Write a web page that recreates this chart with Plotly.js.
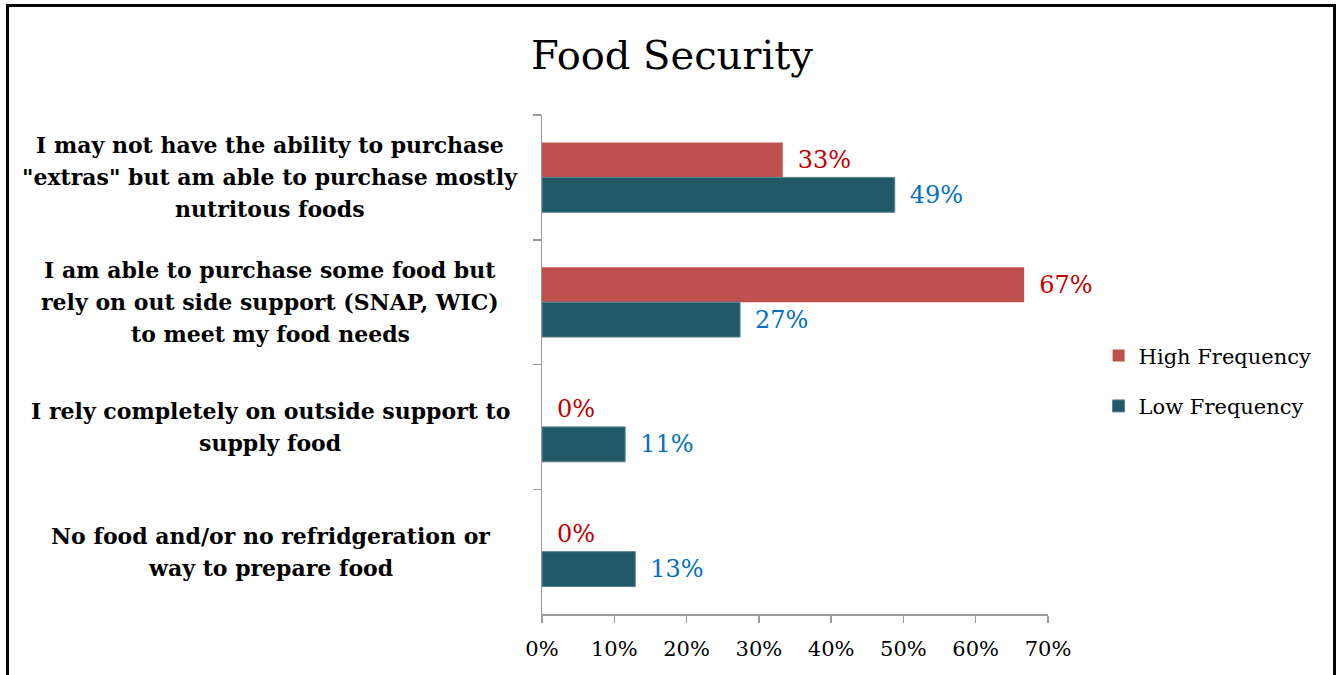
<!DOCTYPE html>
<html>
<head>
<meta charset="utf-8">
<script src="https://cdn.plot.ly/plotly-3.0.1.min.js"></script>
<style>
  html, body { margin: 0; padding: 0; background: #fff; }
  #wrap { position: relative; width: 1336px; height: 675px; overflow: hidden; }
  #chart { position: absolute; left: 0; top: 0; width: 1336px; height: 675px; }
  #frame { position: absolute; left: 6px; top: 4px; width: 1330px; height: 720px;
           border: 3px solid #000; box-sizing: border-box; pointer-events: none; }
</style>
</head>
<body>
<div id="wrap">
  <div id="chart"></div>
  <div id="frame"></div>
</div>
<script>
const chartTitle = 'Food Security';
const categories = [
  'I may not have the ability to purchase<br>"extras" but am able to purchase mostly<br>nutritous foods',
  'I am able to purchase some food but<br>rely on out side support (SNAP, WIC)<br>to meet my food needs',
  'I rely completely on outside support to<br>supply food',
  'No food and/or no refridgeration or<br>way to prepare food'
];
const seriesNames = ['High Frequency', 'Low Frequency'];
const highValues = [33.3, 66.7, 0, 0];
const lowValues = [48.8, 27.4, 11.5, 12.9];
const highLabels = ['33%', '67%', '0%', '0%'];
const lowLabels = ['49%', '27%', '11%', '13%'];
const xTickVals = [0, 10, 20, 30, 40, 50, 60, 70];
const xTickText = ['0%', '10%', '20%', '30%', '40%', '50%', '60%', '70%'];

const FONT = 'DejaVu Serif, Liberation Serif, serif';

const traces = [
  {
    type: 'bar', orientation: 'h', name: seriesNames[0], legendgroup: 'h',
    y: categories, x: highValues, text: highLabels,
    texttemplate: '\u2002%{text}', textposition: 'outside', cliponaxis: false,
    textfont: { family: FONT, size: 24, color: '#C00000' },
    marker: { color: '#C0504D' }, hoverinfo: 'x+name'
  },
  {
    type: 'bar', orientation: 'h', name: seriesNames[1], legendgroup: 'l',
    y: categories, x: lowValues, text: lowLabels,
    texttemplate: '\u2002%{text}', textposition: 'outside', cliponaxis: false,
    textfont: { family: FONT, size: 24, color: '#0070C0' },
    marker: { color: '#215968', line: { color: '#5a8290', width: 1 } }, hoverinfo: 'x+name'
  }
];

// category labels drawn as centred, multi-line annotations (one per line for line spacing)
const LINE_GAP = 32;
const annotations = [];
categories.forEach(c => {
  const lines = c.split('<br>');
  const n = lines.length;
  lines.forEach((ln, i) => {
    annotations.push({
      xref: 'paper', yref: 'y', x: -0.5375, y: c, text: ln,
      yshift: ((n - 1) / 2 - i) * LINE_GAP,
      showarrow: false, xanchor: 'center', yanchor: 'middle', align: 'center',
      font: { family: FONT, size: 22, color: '#000', weight: 'bold' }
    });
  });
});

const layout = {
  width: 1336, height: 675,
  paper_bgcolor: '#fff', plot_bgcolor: '#fff',
  margin: { l: 542, r: 288, t: 115, b: 61 },
  title: {
    text: chartTitle, xref: 'container', x: 0.503, yref: 'container', y: 1 - 55 / 675,
    xanchor: 'center', yanchor: 'middle',
    font: { family: FONT, size: 40, color: '#000' }
  },
  barmode: 'group', bargap: 0.44, bargroupgap: 0,
  xaxis: {
    range: [0, 70], tickvals: xTickVals, ticktext: xTickText,
    showgrid: false, zeroline: false, showline: true, linecolor: '#9a9a9a', linewidth: 1.5,
    ticks: 'outside', ticklen: 7, tickcolor: '#9a9a9a', tickwidth: 1.5,
    ticklabelstandoff: 8,
    tickfont: { family: FONT, size: 21, color: '#000' }, fixedrange: true
  },
  yaxis: {
    type: 'category', autorange: 'reversed', showticklabels: false,
    showgrid: false, zeroline: false, showline: true, linecolor: '#9a9a9a', linewidth: 1.5,
    ticks: 'outside', tickson: 'boundaries', ticklen: 8, tickcolor: '#9a9a9a', tickwidth: 1.5,
    fixedrange: true
  },
  legend: {
    x: 1.100, xanchor: 'left', y: 0.467, yanchor: 'middle',
    font: { family: FONT, size: 21, color: '#000' },
    tracegroupgap: 20, traceorder: 'grouped', bgcolor: 'rgba(0,0,0,0)'
  },
  annotations: annotations,
  showlegend: true
};

Plotly.newPlot('chart', traces, layout, { displayModeBar: false, staticPlot: true });
</script>
</body>
</html>
